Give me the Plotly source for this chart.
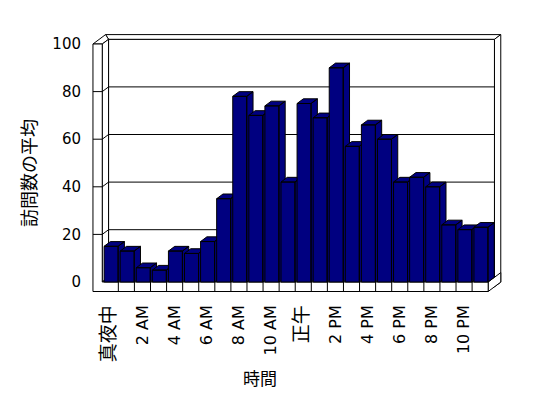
import plotly.graph_objects as go

# ---------------- data ----------------
hours = list(range(24))
visits = [15, 13, 6, 5, 13, 12, 17, 35, 78, 70, 74, 42,
          75, 69, 90, 57, 66, 60, 42, 44, 40, 24, 22, 23]
tick_positions = [0, 2, 4, 6, 8, 10, 12, 14, 16, 18, 20, 22]
tick_labels = ["真夜中", "2 AM", "4 AM", "6 AM", "8 AM", "10 AM",
               "正午", "2 PM", "4 PM", "6 PM", "8 PM", "10 PM"]
y_ticks = [0, 20, 40, 60, 80, 100]
y_title = "訪問数の平均"
x_title = "時間"

# ---------------- style / geometry ----------------
W, H = 548, 398
PX_X = 16.08          # pixels per category
PX_Y = 2.38           # pixels per value unit
X0_PX = 110.3         # pixel of category 0 centre
Y0_PX = 282.0         # pixel of value 0 (front plane)
PL, PR, PT, PB = 90, 505, 30, 296   # plot area in pixels

xr = [(PL - X0_PX) / PX_X, (PR - X0_PX) / PX_X]
yr = [(Y0_PX - PB) / PX_Y, (Y0_PX - PT) / PX_Y]

DX = 6.3 / PX_X       # depth offset (x) in data units
DY = 4.7 / PX_Y       # depth offset (y) in data units
VMAX = y_ticks[-1]
L = hours[0] - 0.5
R = hours[-1] + 0.5
TW = 9.3 / PX_X       # left wall thickness
TF = 9.5 / PX_Y       # floor thickness
BAR_W = 0.87
BAR_OFF = 0.05
NAVY = "#000080"


def P(x, v, z):
    return (x + z * DX, v + z * DY)


def paper_x(px):
    return (px - PL) / (PR - PL)


def paper_y(py):
    return (PB - py) / (PB - PT)


def is_cjk(s):
    return any(ord(c) > 0x2E80 for c in s)


fig = go.Figure()


def poly(points_list, fill="white", width=1):
    xs, ys = [], []
    for pts in points_list:
        for (x, v, z) in pts:
            px, py = P(x, v, z)
            xs.append(px)
            ys.append(py)
        px, py = P(*pts[0])
        xs.append(px)
        ys.append(py)
        xs.append(None)
        ys.append(None)
    fig.add_trace(go.Scatter(x=xs, y=ys, mode="lines", fill="toself",
                             fillcolor=fill,
                             line=dict(color="black", width=width),
                             hoverinfo="skip", showlegend=False))


def lines(points_list, width=1):
    xs, ys = [], []
    for pts in points_list:
        for (x, v, z) in pts:
            px, py = P(x, v, z)
            xs.append(px)
            ys.append(py)
        xs.append(None)
        ys.append(None)
    fig.add_trace(go.Scatter(x=xs, y=ys, mode="lines",
                             line=dict(color="black", width=width),
                             hoverinfo="skip", showlegend=False))


# back wall (front face at z=1, top, right side)
poly([[(L, 0, 1), (R, 0, 1), (R, VMAX, 1), (L, VMAX, 1)]])
poly([[(L, VMAX, 1), (R, VMAX, 1), (R, VMAX, 2), (L - TW, VMAX, 2)]])
poly([[(R, -TF, 1), (R, VMAX, 1), (R, VMAX, 2), (R, -TF, 2)]])
# left wall: top and inner face
poly([[(L - TW, VMAX, 0), (L, VMAX, 0), (L, VMAX, 1), (L - TW, VMAX, 2)]])
poly([[(L, 0, 0), (L, VMAX, 0), (L, VMAX, 1), (L, 0, 1)]])
# floor: top and right face
poly([[(L, 0, 0), (R, 0, 0), (R, 0, 1), (L, 0, 1)]])
poly([[(R, -TF, 0), (R, 0, 0), (R, 0, 2), (R, -TF, 2)]])
# front face of floor + left wall (L-shaped)
poly([[(L - TW, -TF, 0), (R, -TF, 0), (R, 0, 0), (L, 0, 0),
       (L, VMAX, 0), (L - TW, VMAX, 0)]])
# category dividers on the floor front face
lines([[(h + 0.5, -TF, 0), (h + 0.5, 0, 0)] for h in hours[:-1]])
# gridlines (tick on wall front, inner wall face, back wall)
lines([[(L - TW, t, 0), (L, t, 0), (L, t, 1), (R, t, 1)]
       for t in y_ticks[1:-1]])

# bars (front, top, side), drawn left to right
for h, v in zip(hours, visits):
    a = h + BAR_OFF - BAR_W / 2
    b = h + BAR_OFF + BAR_W / 2
    poly([
        [(a, 0, 0), (b, 0, 0), (b, v, 0), (a, v, 0)],
        [(a, v, 0), (b, v, 0), (b, v, 1), (a, v, 1)],
        [(b, 0, 0), (b, 0, 1), (b, v, 1), (b, v, 0)],
    ], fill=NAVY)

font_lat = "DejaVu Sans, Noto Sans CJK JP, sans-serif"
font_cjk = "Noto Sans CJK JP, DejaVu Sans, sans-serif"

tick_text = [
    f"<span style='font-size:19px'>{t}</span>" if is_cjk(t) else t
    for t in tick_labels
]

fig.update_layout(
    width=W, height=H,
    margin=dict(l=PL, r=W - PR, t=PT, b=H - PB, pad=0),
    paper_bgcolor="white", plot_bgcolor="white",
    showlegend=False,
    xaxis=dict(range=xr, showgrid=False, zeroline=False, showline=False,
               tickmode="array", tickvals=tick_positions,
               ticktext=tick_text, tickangle=-90, ticks="",
               ticklabelstandoff=5,
               tickfont=dict(family=font_lat, size=16, color="black"),
               fixedrange=True),
    yaxis=dict(range=yr, showgrid=False, zeroline=False, showline=False,
               tickmode="array", tickvals=y_ticks,
               ticktext=[str(t) for t in y_ticks], ticks="",
               ticklabelstandoff=8,
               tickfont=dict(family=font_lat, size=15, color="black"),
               fixedrange=True),
    annotations=[
        dict(text=y_title, x=paper_x(28), y=paper_y(173), xref="paper",
             yref="paper", showarrow=False, textangle=-90,
             font=dict(family=font_cjk, size=18, color="black"),
             xanchor="center", yanchor="middle"),
        dict(text=x_title, x=paper_x(260), y=paper_y(377), xref="paper",
             yref="paper", showarrow=False,
             font=dict(family=font_cjk, size=17, color="black"),
             xanchor="center", yanchor="middle"),
    ],
)

fig.write_html("out.html")
